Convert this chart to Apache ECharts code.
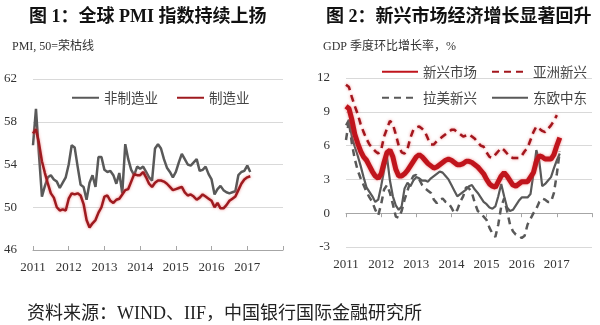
<!DOCTYPE html>
<html>
<head>
<meta charset="utf-8">
<script src="https://cdn.jsdelivr.net/npm/echarts@6/dist/echarts.min.js"></script>
<style>
html,body{margin:0;padding:0;background:#fff;}
#c{width:600px;height:325px;}
</style>
</head>
<body>
<div id="c"></div>
<script>
// ---- data ----
const years = ['2011','2012','2013','2014','2015','2016','2017'];
const axisEndYear = '2018';
// monthly, Jan 2011 - Feb 2017
const nonMfgPMI = [55.8,59.2,55.0,51.0,52.0,52.8,53.0,52.6,52.4,51.8,52.3,52.8,
  54.0,55.8,55.6,53.8,52.1,51.9,50.7,52.3,53.0,51.9,54.7,54.7,
  53.5,53.3,53.4,53.0,52.2,53.2,51.3,55.9,54.5,53.5,53.0,53.8,
  53.6,53.8,53.3,52.8,52.5,55.5,55.9,55.5,54.5,53.7,53.3,52.8,
  53.3,54.2,55.0,54.5,54.0,53.9,54.2,54.5,53.4,53.5,53.8,53.1,
  52.6,51.2,51.7,52.0,51.6,51.4,51.3,51.4,51.5,53.0,53.3,53.4,
  53.9,53.3];
const mfgPMI = [56.9,57.3,56.0,54.3,53.2,52.2,51.3,50.9,50.0,49.7,49.8,49.7,
  50.8,51.3,51.2,51.3,51.1,50.3,48.8,48.1,48.5,48.8,49.5,50.0,
  51.0,51.1,50.6,50.4,50.7,50.8,51.2,51.6,51.7,52.4,53.1,53.0,
  53.0,53.3,52.8,52.2,51.9,52.3,52.5,52.5,52.4,52.2,51.9,51.6,
  51.7,51.8,51.9,51.4,51.1,51.2,51.0,50.7,50.9,51.2,51.0,50.8,
  50.6,50.0,50.4,49.9,49.9,50.2,50.6,50.8,51.0,51.6,52.2,52.6,
  52.8,52.9];
const emGDP = [9.5,9.3,8.3,7.0,6.2,5.5,5.0,4.7,4.2,3.7,3.3,3.1,
  3.5,4.5,5.4,5.6,5.0,3.9,3.3,3.3,3.5,3.8,4.2,4.6,
  5.0,5.2,5.0,4.7,4.4,4.2,4.0,4.1,4.3,4.5,4.7,4.8,
  4.7,4.5,4.3,4.3,4.4,4.6,4.6,4.5,4.3,4.1,3.8,3.5,
  3.0,2.6,2.4,2.3,2.8,3.3,3.6,3.3,2.9,2.5,2.4,2.6,
  2.8,2.8,2.8,3.2,3.6,4.6,5.1,5.0,4.8,4.8,4.8,5.2,
  6.0,6.7];
const asiaGDP = [11.4,11.2,10.3,9.5,8.8,7.9,7.2,6.6,6.1,5.8,5.5,5.3,
  5.6,6.8,7.5,8.2,7.9,7.0,6.0,5.4,5.3,5.7,6.7,7.4,
  7.6,7.7,7.5,7.2,6.6,6.1,6.1,6.4,6.6,6.8,7.0,7.2,
  7.4,7.4,7.2,7.0,6.8,6.9,7.0,6.8,6.6,6.3,6.0,5.9,
  5.4,5.0,4.9,5.2,5.5,5.8,5.6,5.3,5.0,4.9,4.9,4.9,
  5.1,5.5,5.8,6.5,7.2,7.7,7.5,7.3,7.2,7.5,7.8,8.2,
  8.7,null];
const latamGDP = [6.5,8.2,6.2,4.8,3.8,3.1,2.5,1.9,1.4,1.0,0.3,-0.2,
  0.8,2.1,2.5,1.8,0.8,-0.3,-0.4,0.2,1.2,2.0,2.8,3.3,
  3.4,3.0,2.5,2.2,2.0,1.8,1.2,0.9,1.2,1.3,1.0,0.9,
  0.5,0.0,0.3,1.0,1.5,2.3,2.2,1.8,0.9,0.2,0.0,-0.3,
  -0.6,-1.3,-1.8,-2.1,-1.0,0.6,1.3,0.2,-1.0,-1.6,-1.9,-2.0,
  -2.2,-2.0,-1.0,-0.5,0.0,0.4,1.0,1.3,1.2,1.0,1.0,1.8,
  3.5,5.5];
const ceeGDP = [7.8,8.3,6.8,5.9,5.1,4.2,3.2,2.3,1.9,1.5,1.0,1.2,
  2.4,3.8,5.0,2.9,1.5,0.7,0.3,0.6,2.2,2.7,2.4,2.9,
  3.2,3.1,2.9,2.9,2.8,3.1,3.3,3.5,3.7,3.6,3.3,3.0,
  2.5,2.0,1.5,1.7,1.9,2.1,2.4,2.5,2.1,1.8,1.4,1.0,
  0.8,0.5,0.4,0.6,1.5,2.6,1.5,0.5,0.2,0.3,0.7,1.1,
  1.4,1.4,1.4,1.7,3.5,5.6,4.6,2.4,2.6,2.9,3.2,4.0,
  4.7,5.3];

// month categories (axis runs Jan 2011 .. Jan 2018)
const months = [];
years.forEach(y => { for (let m = 1; m <= 12; m++) months.push(y + '-' + m); });
months.push(axisEndYear + '-1');

const SERIF = "'Liberation Serif','Noto Sans CJK SC',serif";
const CJK = "'Noto Sans CJK SC','Liberation Serif',sans-serif";
const GRAY = '#595959';
const RED = '#c0141c';
const DRED = '#a3161d';
const GRID = '#d9d9d9';
const AXIS = '#a6a6a6';

const yearTick = (idx) => idx % 12 === 0;
const yearLabel = (val) => {
  const p = val.split('-');
  return (p[1] === '1' && years.indexOf(p[0]) >= 0) ? p[0] : '';
};

const legendBase = {
  padding: 0, itemHeight: 12, itemGap: 14,
  itemStyle: {opacity: 0},
  textStyle: {fontSize: 13.5, color: '#444', fontFamily: CJK}
};

const chart = echarts.init(document.getElementById('c'), null, {renderer: 'canvas'});
chart.setOption({
  animation: false,
  backgroundColor: '#fff',
  title: [
    {text: '图 1：全球 PMI 指数持续上扬', left: 24, top: 3,
     textStyle: {fontSize: 18, fontWeight: 'bold', color: '#111', fontFamily: SERIF}},
    {text: '图 2：新兴市场经济增长显著回升', left: 321, top: 3,
     textStyle: {fontSize: 18, fontWeight: 'bold', color: '#111', fontFamily: SERIF}},
    {text: 'PMI, 50=荣枯线', left: 7, top: 36,
     textStyle: {fontSize: 12, fontWeight: 'normal', color: '#333', fontFamily: SERIF}},
    {text: 'GDP 季度环比增长率，%', left: 318, top: 36,
     textStyle: {fontSize: 12, fontWeight: 'normal', color: '#333', fontFamily: SERIF}},
    {text: '资料来源：WIND、IIF，中国银行国际金融研究所', left: 22, top: 300,
     textStyle: {fontSize: 18, fontWeight: 'normal', color: '#222', fontFamily: SERIF}}
  ],
  legend: [
    Object.assign({}, legendBase, {data: ['非制造业', '制造业'], left: 71, top: 91, itemWidth: 27, itemGap: 18}),
    Object.assign({}, legendBase, {data: ['新兴市场', '亚洲新兴'], left: 381, top: 65, itemWidth: 36}),
    Object.assign({}, legendBase, {data: ['拉美新兴', '东欧中东'], left: 381, top: 91, itemWidth: 36})
  ],
  grid: [
    {left: 33, right: 317, top: 79, bottom: 75},
    {left: 346, right: 8, top: 78, bottom: 78}
  ],
  xAxis: [
    {type: 'category', gridIndex: 0, data: months, boundaryGap: false,
     axisLine: {lineStyle: {color: AXIS, width: 1}},
     axisTick: {inside: true, length: 4, interval: (i) => yearTick(i), lineStyle: {color: AXIS}},
     axisLabel: {interval: (i) => yearTick(i), formatter: yearLabel, margin: 11,
                 fontSize: 13, color: '#333', fontFamily: SERIF},
     splitLine: {show: false}},
    {type: 'category', gridIndex: 1, data: months, boundaryGap: false, position: 'bottom',
     axisLine: {show: false, onZero: false}, axisTick: {show: false},
     axisLabel: {interval: (i) => yearTick(i), formatter: yearLabel, margin: 11,
                 fontSize: 13, color: '#333', fontFamily: SERIF},
     splitLine: {show: false}},
    {type: 'category', gridIndex: 1, data: months, boundaryGap: false, position: 'top',
     axisLine: {onZero: true, lineStyle: {color: AXIS, width: 1}},
     axisTick: {inside: true, length: 4, interval: (i) => yearTick(i), lineStyle: {color: AXIS}},
     axisLabel: {show: false}, splitLine: {show: false}}
  ],
  yAxis: [
    {type: 'value', gridIndex: 0, min: 46, max: 62, interval: 4,
     axisLine: {show: false}, axisTick: {show: false},
     axisLabel: {margin: 16, fontSize: 13, color: '#333', fontFamily: SERIF},
     splitLine: {lineStyle: {color: GRID, width: 1}}},
    {type: 'value', gridIndex: 1, min: -3, max: 12, interval: 3,
     axisLine: {show: false}, axisTick: {show: false},
     axisLabel: {margin: 16, fontSize: 13, color: '#333', fontFamily: SERIF},
     splitLine: {lineStyle: {color: GRID, width: 1}}}
  ],
  series: [
    {name: '非制造业', type: 'line', xAxisIndex: 0, yAxisIndex: 0, data: nonMfgPMI,
     showSymbol: false, symbol: 'none', color: GRAY,
     lineStyle: {color: GRAY, width: 2.5}},
    {name: '制造业', type: 'line', xAxisIndex: 0, yAxisIndex: 0, data: mfgPMI,
     showSymbol: false, symbol: 'none', color: '#9e1a1f',
     lineStyle: {color: '#9e1a1f', width: 2.5, shadowBlur: 3, shadowColor: 'rgba(230,90,90,0.7)'}},
    {name: '东欧中东', type: 'line', xAxisIndex: 1, yAxisIndex: 1, data: ceeGDP,
     showSymbol: false, symbol: 'none', color: GRAY,
     lineStyle: {color: GRAY, width: 2.2}},
    {name: '拉美新兴', type: 'line', xAxisIndex: 1, yAxisIndex: 1, data: latamGDP,
     showSymbol: false, symbol: 'none', color: GRAY,
     lineStyle: {color: GRAY, width: 2.5, type: [7, 5]}},
    {name: '亚洲新兴', type: 'line', xAxisIndex: 1, yAxisIndex: 1, data: asiaGDP,
     showSymbol: false, symbol: 'none', color: DRED,
     lineStyle: {color: DRED, width: 2.5, type: [7, 5], shadowBlur: 3, shadowColor: 'rgba(230,90,90,0.7)'}},
    {name: '新兴市场', type: 'line', xAxisIndex: 1, yAxisIndex: 1, data: emGDP,
     showSymbol: false, symbol: 'none', color: RED,
     lineStyle: {color: RED, width: 5, shadowBlur: 3, shadowColor: 'rgba(230,90,90,0.7)'}}
  ]
});
</script>
</body>
</html>
